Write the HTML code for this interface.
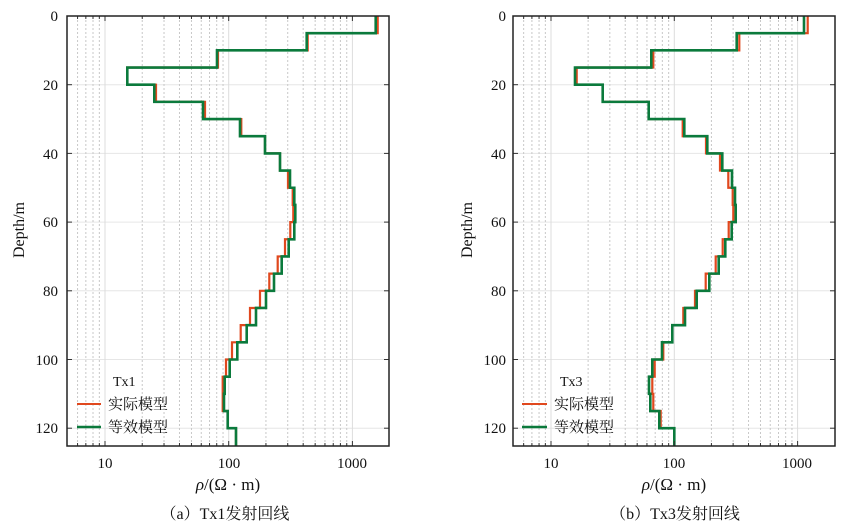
<!DOCTYPE html>
<html><head><meta charset="utf-8">
<style>
html,body{margin:0;padding:0;background:#fff;}
svg{display:block;}
text{font-family:"Liberation Serif","Noto Serif CJK SC",serif;fill:#111;}
.cj{font-family:"Liberation Serif","Noto Serif CJK SC","Noto Sans CJK SC",serif;}
</style></head>
<body>
<svg id="s" width="851" height="530" viewBox="0 0 851 530" xmlns="http://www.w3.org/2000/svg">
<g id="grid"></g>
<g id="data"></g>
<g id="axes"></g>
<g font-size="15" text-anchor="end">
<text x="58" y="21">0</text><text x="58" y="90">20</text><text x="58" y="159">40</text>
<text x="58" y="227">60</text><text x="58" y="296">80</text><text x="58" y="365">100</text><text x="58" y="433">120</text>
<text x="506" y="21">0</text><text x="506" y="90">20</text><text x="506" y="159">40</text>
<text x="506" y="227">60</text><text x="506" y="296">80</text><text x="506" y="365">100</text><text x="506" y="433">120</text>
</g>
<g font-size="15" text-anchor="middle">
<text x="105" y="468">10</text><text x="229" y="468">100</text><text x="352" y="468">1000</text>
<text x="551" y="468">10</text><text x="674" y="468">100</text><text x="797" y="468">1000</text>
</g>
<text font-size="16" text-anchor="middle" transform="translate(24,230) rotate(-90)">Depth/m</text>
<text font-size="16" text-anchor="middle" transform="translate(472,230) rotate(-90)">Depth/m</text>
<text font-size="17" x="228" y="490" text-anchor="middle"><tspan font-style="italic">ρ</tspan>/(Ω · m)</text>
<text font-size="17" x="674" y="490" text-anchor="middle"><tspan font-style="italic">ρ</tspan>/(Ω · m)</text>
<text class="cj" font-size="16" x="225" y="519" text-anchor="middle">（a）Tx1发射回线</text>
<text class="cj" font-size="16" x="675" y="519" text-anchor="middle">（b）Tx3发射回线</text>
<g>
<text font-size="14" x="113" y="386">Tx1</text>
<line x1="77" y1="404" x2="101" y2="404" stroke="#e0481e" stroke-width="2"/>
<text class="cj" font-size="15" x="108" y="409">实际模型</text>
<line x1="77" y1="427" x2="101" y2="427" stroke="#0b7a3c" stroke-width="2.5"/>
<text class="cj" font-size="15" x="108" y="432">等效模型</text>
<text font-size="14" x="560" y="386">Tx3</text>
<line x1="522" y1="404" x2="547" y2="404" stroke="#e0481e" stroke-width="2"/>
<text class="cj" font-size="15" x="554" y="409">实际模型</text>
<line x1="522" y1="427" x2="547" y2="427" stroke="#0b7a3c" stroke-width="2.5"/>
<text class="cj" font-size="15" x="554" y="432">等效模型</text>
</g>
</svg>
<script>
var NS="http://www.w3.org/2000/svg";
function el(p,t,a){var e=document.createElementNS(NS,t);for(var k in a)e.setAttribute(k,a[k]);p.appendChild(e);return e;}
var grid=document.getElementById('grid'),data=document.getElementById('data'),axes=document.getElementById('axes');
var panels=[{L:67,R:389,x10:105,dec:123.7},{L:513,R:835,x10:551,dec:123.3}];
var T=16,B=446,dy=3.435;
var series=[
 {g:[375.7,306.7,217,127.3,154.3,203,240,265,280,290,294.3,295.3,294.3,288.7,281.7,274,266,256,246.7,237.3,229.7,224.7,224,227.7,236],
  r:[377.7,307.7,218,127.3,156,205,241.3,265,280,288,292.7,293.3,290.3,285,277.7,269.3,260,250,240.7,232,226,222.7,222.7,227.7,236]},
 {g:[804,736.7,651.3,575,602.7,648.7,684.3,707.3,722.3,732,735,735.7,731.7,725.3,718.7,709.3,696.7,685,672.3,662,652.3,649,650.3,659.3,674.3],
  r:[807.7,739.3,653.3,576.7,602.7,648.7,682.7,706,720,728.3,732.7,733.3,728.7,722.7,715.7,705.7,695,683.3,672.3,663.3,654.7,652.3,653.3,660.7,674.3]}];
panels.forEach(function(p,i){
 for(var d=20;d<=120;d+=20){var y=T+d*dy;el(grid,'line',{x1:p.L,x2:p.R,y1:y,y2:y,stroke:'#e6e6e6','stroke-width':1});}
 for(var e=0;e<4;e++){for(var m=1;m<10;m++){var v=Math.pow(10,e)*m;var x=p.x10+(Math.log10(v)-1)*p.dec;
   if(x<=p.L+1||x>=p.R-1)continue;
   el(grid,'line',{x1:x,x2:x,y1:T,y2:B,stroke:m==1?'#dcdcdc':'#c8c8c8','stroke-width':1,'stroke-dasharray':m==1?'':'2,2'});
   var tl=m==1?5:3;
   el(axes,'line',{x1:x,x2:x,y1:B,y2:B-tl,stroke:'#333','stroke-width':1});
   el(axes,'line',{x1:x,x2:x,y1:T,y2:T+tl,stroke:'#333','stroke-width':1});}}
 for(var d=0;d<=120;d+=20){var y=T+d*dy;
   el(axes,'line',{x1:p.L,x2:p.L+5,y1:y,y2:y,stroke:'#333'});
   el(axes,'line',{x1:p.R-5,x2:p.R,y1:y,y2:y,stroke:'#333'});}
 el(axes,'rect',{x:p.L,y:T,width:p.R-p.L,height:B-T,fill:'none',stroke:'#222','stroke-width':1.5});
 function path(arr){var s='';for(var k=0;k<arr.length;k++){var y0=T+k*5*dy,y1=k==arr.length-1?B:T+(k+1)*5*dy;
   s+=(k==0?'M':'L')+arr[k]+','+y0+'L'+arr[k]+','+y1;}return s;}
 el(data,'path',{d:path(series[i].r),fill:'none',stroke:'#e0481e','stroke-width':2.2});
 el(data,'path',{d:path(series[i].g),fill:'none',stroke:'#0b7a3c','stroke-width':2.6});
});
</script>
</body></html>
